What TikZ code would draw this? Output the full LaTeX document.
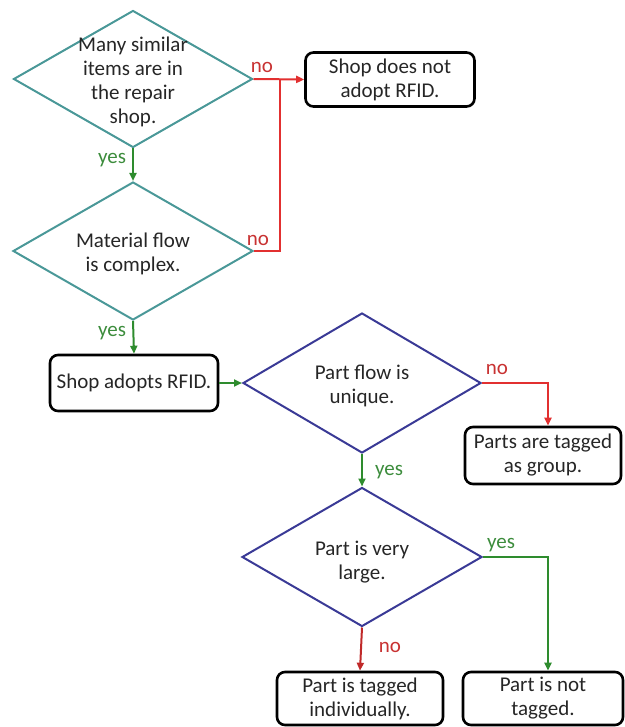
\documentclass[tikz,border=0pt]{standalone}
\usepackage{fontspec}
\setmainfont{Carlito}
\usetikzlibrary{shapes.geometric,arrows.meta}
\definecolor{tealline}{RGB}{74,152,152}
\definecolor{navyline}{RGB}{58,58,150}
\definecolor{noline}{RGB}{226,48,48}
\definecolor{yesline}{RGB}{46,140,46}
\definecolor{notext}{RGB}{200,50,50}
\definecolor{yestext}{RGB}{60,140,60}
\definecolor{ink}{RGB}{38,38,38}
\begin{document}
\begin{tikzpicture}[x=1pt,y=-1pt,
  every node/.style={font=\fontsize{21}{24}\selectfont, text=ink},
  dia/.style={draw, shape=diamond, inner sep=0pt, line width=2pt, line join=miter},
  tdia/.style={dia, draw=tealline},
  ndia/.style={dia, draw=navyline},
  txt/.style={align=center, inner sep=0pt},
  endbox/.style={draw=black, line width=2.6pt, rounded corners=8pt, align=center, inner sep=0pt},
  conn/.style={line width=2pt},
  noarr/.style={conn, draw=noline, -{Triangle[length=8pt,width=7pt]}},
  yesarr/.style={conn, draw=yesline, -{Triangle[length=8pt,width=7pt]}},
  noline/.style={conn, draw=noline},
  nolab/.style={text=notext, inner sep=0pt},
  yeslab/.style={text=yestext, inner sep=0pt}
]
\useasboundingbox (0,0) rectangle (624,727);

% decision diamonds
\node[tdia, minimum width=239pt, minimum height=137pt] (d1) at (133,79) {};
\node[txt] (t1) at (133,82) {Many similar\\items are in\\the repair\\shop.};
\node[tdia, minimum width=240pt, minimum height=138pt] (d2) at (133,251) {};
\node[txt] (t2) at (133,254) {Material flow\\is complex.};
\node[ndia, minimum width=238pt, minimum height=140pt] (d3) at (362,383) {};
\node[txt] (t3) at (362,386) {Part flow is\\unique.};
\node[ndia, minimum width=240pt, minimum height=139pt] (d4) at (362,557) {};
\node[txt] (t4) at (362,562) {Part is very\\large.};

% outcome boxes
\node[endbox, minimum width=169pt, minimum height=54pt] (b1) at (390,79.5) {Shop does not\\adopt RFID.};
\node[endbox, minimum width=168pt, minimum height=56pt] (b2) at (134,383) {Shop adopts RFID.};
\node[endbox, minimum width=156pt, minimum height=57pt] (b3) at (543,455.5) {Parts are tagged\\as group.};
\node[endbox, minimum width=166pt, minimum height=53pt] (b4) at (360,698.5) {Part is tagged\\individually.};
\node[endbox, minimum width=160pt, minimum height=53pt] (b5) at (543,698.5) {Part is not\\tagged.};

% bend points
\coordinate (j1) at (280,79);
\coordinate (j3) at (548,383);
\coordinate (j4) at (548,557);

% connectors
\draw[yesarr] (d1.south) -- (d2.north);
\draw[noarr] (d1.east) -- (b1.west);
\draw[noline] (d2.east) -| (j1);
\draw[yesarr] (d2.south) -- (b2.north);
\draw[yesarr] (b2.east) -- (d3.west);
\draw[noarr] (d3.east) -- (j3) -- (j3 |- b3.north);
\draw[yesarr] (d3.south) -- (d4.north);
\draw[yesarr] (d4.east) -- (j4) -- (j4 |- b5.north);
\draw[noarr, draw=noline!85!black] (d4.south) -- (b4.north);

% branch labels
\node[nolab] (l1) at (262,67) {no};
\node[yeslab] (l2) at (112,160) {yes};
\node[nolab] (l3) at (258,240) {no};
\node[yeslab] (l4) at (112,333) {yes};
\node[nolab] (l5) at (497,369) {no};
\node[yeslab] (l6) at (389,472) {yes};
\node[yeslab] (l7) at (501,545) {yes};
\node[nolab] (l8) at (390,647) {no};
\end{tikzpicture}
\end{document}
